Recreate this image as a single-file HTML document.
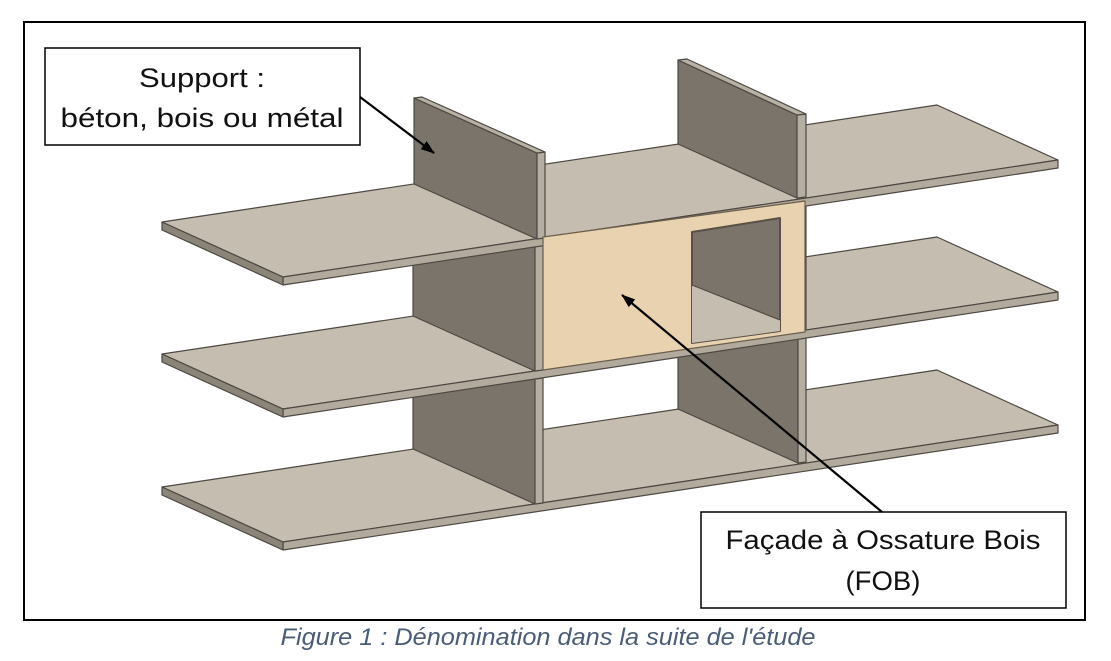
<!DOCTYPE html>
<html><head><meta charset="utf-8"><style>
html,body{margin:0;padding:0;background:#fff;}
svg{display:block;}
</style></head><body>
<svg width="1111" height="661" viewBox="0 0 1111 661" xmlns="http://www.w3.org/2000/svg">
<defs>
<marker id="ah" markerWidth="14" markerHeight="10" refX="13" refY="5" orient="auto" markerUnits="userSpaceOnUse">
<path d="M0,0 L14,5 L0,10 Z" fill="#000"/>
</marker>
</defs>
<rect x="0" y="0" width="1111" height="661" fill="#fff"/>
<rect x="24" y="22" width="1061" height="598" fill="#fff" stroke="#000" stroke-width="2"/>

<g stroke="#4d4842" stroke-width="1.2" stroke-linejoin="round">
<!-- bottom slab -->
<polygon points="162,487 937,370 1058,425 283,542" fill="#c5bdaf"/>
<polygon points="283,542 1058,425 1058,433 283,550" fill="#b2aa9c"/>
<polygon points="162,487 283,542 283,550 162,495" fill="#8a8479"/>
<!-- walls between bottom and middle -->
<polygon points="413,449 535,504 535,379 413,324" fill="#7a746b"/>
<polygon points="535,504 543,503 543,378 535,379" fill="#b5aea2"/>
<polygon points="678,409 798,463 798,339 678,284" fill="#7a746b"/>
<polygon points="798,463 806,462 806,338 798,339" fill="#b5aea2"/>
<!-- middle slab -->
<polygon points="162,354 937,237 1058,292 283,409" fill="#c5bdaf"/>
<polygon points="283,409 1058,292 1058,300 283,417" fill="#b2aa9c"/>
<polygon points="162,354 283,409 283,417 162,362" fill="#8a8479"/>
<!-- walls between middle and top -->
<polygon points="413,316 535,371 535,246 413,191" fill="#7a746b"/>
<polygon points="535,371 543,370 543,245 535,246" fill="#b5aea2"/>
<polygon points="678,276 798,330 798,206 678,151" fill="#7a746b"/>
<polygon points="798,330 806,329 806,205 798,206" fill="#b5aea2"/>
<!-- top slab -->
<polygon points="162,222 937,105 1058,160 283,277" fill="#c5bdaf"/>
<polygon points="283,277 1058,160 1058,168 283,285" fill="#b2aa9c"/>
<polygon points="162,222 283,277 283,285 162,230" fill="#8a8479"/>
<!-- top walls -->
<polygon points="414,184 537,239 537,153 414,98" fill="#7a746b"/>
<polygon points="537,239 545,238 545,152 537,153" fill="#b5aea2"/>
<polygon points="414,98 537,153 545,152 422,97" fill="#b8b1a5"/>
<polygon points="678,144 797,198 797,115 678,60" fill="#7a746b"/>
<polygon points="797,198 806,197 806,114 797,115" fill="#b5aea2"/>
<polygon points="678,60 797,115 806,114 687,59" fill="#b8b1a5"/>
<!-- facade -->
<polygon points="543,237 805,201 805,332 543,370" fill="#e8d2b0" stroke="#6b5e4c"/>
<polygon points="692,232 780,218 780,331 692,343" fill="#7a746b" stroke="#5a5046" stroke-width="2"/>
<polygon points="692,285 780,320 780,331 692,343" fill="#c5bdaf" stroke="none"/>
<polyline points="692,285 780,320" fill="none" stroke="#4d4842"/>
</g>

<!-- callout 1 -->
<rect x="45" y="48" width="315" height="97" fill="#fff" stroke="#000" stroke-width="1.5"/>
<text x="202" y="87" font-family="Liberation Sans, sans-serif" font-size="27" text-anchor="middle" fill="#111" textLength="126" lengthAdjust="spacingAndGlyphs">Support :</text>
<text x="202" y="127" font-family="Liberation Sans, sans-serif" font-size="27" text-anchor="middle" fill="#111" textLength="283" lengthAdjust="spacingAndGlyphs">béton, bois ou métal</text>
<line x1="360" y1="97" x2="434" y2="153" stroke="#000" stroke-width="2.2" marker-end="url(#ah)"/>

<!-- callout 2 -->
<rect x="701" y="512" width="365" height="96" fill="#fff" stroke="#000" stroke-width="1.5"/>
<text x="883" y="549" font-family="Liberation Sans, sans-serif" font-size="27" text-anchor="middle" fill="#111" textLength="315" lengthAdjust="spacingAndGlyphs">Façade à Ossature Bois</text>
<text x="883" y="590" font-family="Liberation Sans, sans-serif" font-size="27" text-anchor="middle" fill="#111" textLength="75" lengthAdjust="spacingAndGlyphs">(FOB)</text>
<line x1="882" y1="512" x2="622" y2="295" stroke="#000" stroke-width="2.2" marker-end="url(#ah)"/>

<!-- caption -->
<text x="548" y="645" font-family="Liberation Sans, sans-serif" font-style="italic" font-size="24" text-anchor="middle" fill="#4a5d78" textLength="535" lengthAdjust="spacingAndGlyphs">Figure 1 : Dénomination dans la suite de l'étude</text>
</svg>
</body></html>
